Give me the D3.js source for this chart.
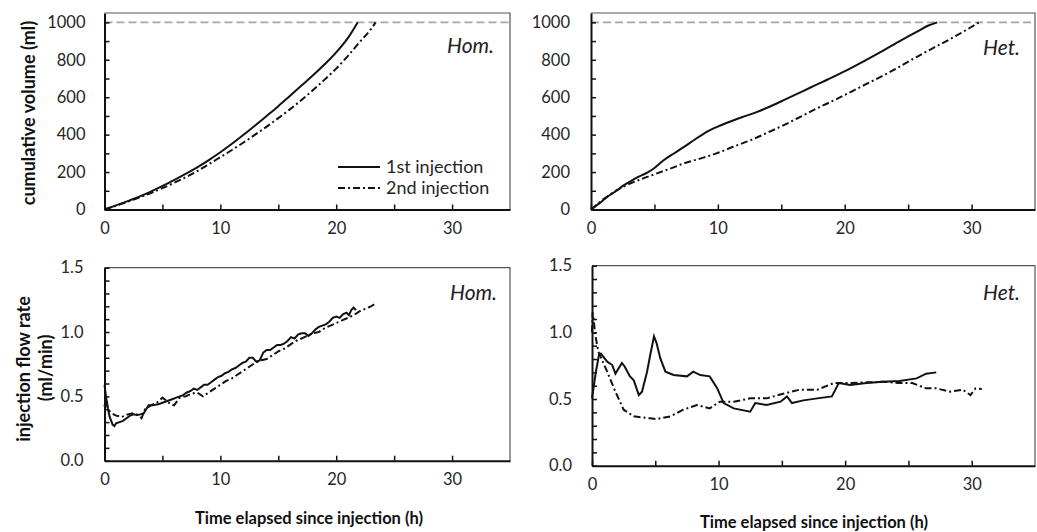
<!DOCTYPE html>
<html>
<head>
<meta charset="utf-8">
<script src="https://cdn.jsdelivr.net/npm/d3@7"></script>
<style>
  html, body { margin: 0; padding: 0; background: #fff; }
  svg { display: block; font-family: Lato, "Open Sans", sans-serif; }
  .title { font-weight: bold; fill: #111; }
  .tag { font-style: italic; font-size: 21px; fill: #222; }
  .leg { font-size: 18px; fill: #262626; }
</style>
</head>
<body>
<svg id="chart" width="1037" height="532"></svg>
<script>
// Cumulative injected volume (ml) against elapsed time (h)
const homVol1 = [[0,0],[1,22],[2,45],[3,69],[4,96],[5,126],[6,157],[7,190],[8,225],[9,264],[10,306],[11,351],[12,399],[13,449],[14,500],[15,552],[16,607],[17,662],[18,717],[19,776],[20,840],[21,916],[21.85,1000]];
const homVol2 = [[0,0],[1,20],[2,42],[3,64],[4,88],[5,114],[6,142],[7,172],[8,205],[9,242],[10,280],[11,318],[12,358],[13,400],[14,443],[15,488],[16,535],[17,585],[18,638],[19,694],[20,753],[21,820],[22,893],[23,964],[23.4,1000]];
const hetVol1 = [[0,0],[0.6,30],[1.3,68],[2.0,100],[2.6,130],[3.5,166],[4.5,200],[5.0,222],[5.7,262],[6.5,298],[7.3,333],[8.1,370],[8.9,406],[9.5,428],[10.1,446],[11.3,478],[12.2,500],[13.1,522],[14.2,553],[15.2,584],[16.2,616],[17.3,652],[18.7,696],[20.1,742],[21.6,796],[23.1,852],[24.4,902],[25.7,950],[26.6,983],[27.3,1000]];
const hetVol2 = [[0,0],[0.7,40],[1.4,75],[2.05,103],[2.8,130],[4.0,163],[5.2,193],[6.3,220],[7.3,246],[8.6,272],[9.9,300],[11.2,335],[12.6,371],[13.9,410],[15.2,451],[16.5,495],[17.8,540],[19.2,585],[20.5,629],[21.8,674],[23.1,718],[24.4,766],[25.7,816],[27.0,864],[28.4,914],[29.6,960],[30.6,1000]];

// Injection flow rate (ml/min) against elapsed time (h)
const homRate1 = [[0,0.59],[0.1,0.52],[0.25,0.42],[0.45,0.34],[0.7,0.28],[0.85,0.27],[1.0,0.29],[1.3,0.30],[1.6,0.31],[1.9,0.33],[2.2,0.35],[2.5,0.36],[2.8,0.355],[3.1,0.36],[3.4,0.37],[3.6,0.40],[3.8,0.43],[4.1,0.43],[4.4,0.435],[4.7,0.44],[5.0,0.45],[5.3,0.46],[5.6,0.47],[5.9,0.48],[6.2,0.49],[6.5,0.50],[6.8,0.51],[7.1,0.53],[7.4,0.54],[7.7,0.56],[8.0,0.55],[8.3,0.57],[8.6,0.59],[8.9,0.59],[9.2,0.61],[9.5,0.63],[9.8,0.65],[10.1,0.66],[10.4,0.68],[10.7,0.69],[11.0,0.71],[11.3,0.72],[11.6,0.74],[11.9,0.76],[12.2,0.77],[12.5,0.80],[12.8,0.80],[13.1,0.77],[13.4,0.78],[13.7,0.84],[14.0,0.86],[14.3,0.86],[14.6,0.88],[14.9,0.90],[15.2,0.90],[15.5,0.91],[15.8,0.93],[16.1,0.96],[16.4,0.95],[16.7,0.98],[17.0,0.99],[17.3,0.99],[17.6,0.97],[17.9,0.99],[18.2,1.02],[18.5,1.04],[18.8,1.05],[19.1,1.06],[19.4,1.08],[19.7,1.11],[20.0,1.12],[20.3,1.11],[20.6,1.14],[20.9,1.15],[21.1,1.13],[21.3,1.17],[21.5,1.19],[21.7,1.17]];
const homRate2 = [[0,0.42],[0.15,0.50],[0.3,0.40],[0.6,0.37],[1.0,0.35],[1.5,0.34],[2.0,0.36],[2.5,0.37],[3.0,0.35],[3.2,0.33],[3.5,0.40],[4.0,0.43],[4.5,0.45],[5.0,0.49],[5.3,0.47],[5.7,0.44],[6.0,0.43],[6.5,0.49],[7.0,0.50],[7.5,0.52],[8.0,0.53],[8.5,0.50],[9.0,0.53],[9.5,0.56],[10.0,0.59],[10.5,0.62],[11.0,0.64],[11.5,0.67],[12.0,0.70],[12.5,0.73],[13.0,0.76],[13.5,0.78],[14.0,0.79],[14.5,0.82],[15.0,0.85],[15.5,0.87],[16.0,0.90],[16.5,0.93],[17.0,0.95],[17.5,0.97],[18.0,0.99],[18.5,1.00],[19.0,1.03],[19.5,1.05],[20.0,1.07],[20.5,1.09],[21.0,1.11],[21.5,1.13],[22.0,1.16],[22.5,1.18],[23.0,1.20],[23.4,1.22]];
const hetRate1 = [[0,0.505],[0.3,0.70],[0.55,0.83],[0.7,0.84],[1.2,0.78],[1.6,0.755],[1.85,0.69],[2.1,0.73],[2.37,0.77],[2.6,0.74],[3.0,0.67],[3.3,0.64],[3.7,0.53],[3.95,0.555],[4.35,0.705],[4.6,0.83],[4.9,0.97],[5.1,0.92],[5.4,0.805],[5.8,0.705],[6.45,0.68],[7.5,0.67],[8.0,0.705],[8.55,0.68],[9.3,0.67],[9.9,0.58],[10.4,0.47],[11.2,0.43],[12.5,0.405],[12.9,0.47],[13.8,0.455],[14.9,0.48],[15.4,0.52],[15.8,0.47],[16.7,0.49],[17.8,0.505],[18.95,0.52],[19.5,0.62],[20.4,0.605],[21.7,0.62],[23.0,0.63],[24.3,0.635],[25.65,0.655],[26.4,0.69],[27.2,0.70]];
const hetRate2 = [[0,1.0],[0.05,1.15],[0.15,1.08],[0.26,0.98],[0.5,0.855],[1.2,0.705],[1.85,0.555],[2.5,0.42],[3.3,0.37],[4.6,0.355],[5.1,0.35],[6.2,0.37],[7.2,0.42],[8.3,0.455],[9.3,0.43],[10.1,0.48],[11.2,0.48],[12.5,0.505],[13.8,0.505],[15.1,0.54],[16.4,0.57],[17.8,0.57],[19.1,0.62],[20.4,0.62],[21.7,0.625],[23.0,0.63],[24.3,0.62],[25.3,0.62],[26.4,0.58],[27.2,0.58],[28.3,0.555],[29.3,0.57],[29.9,0.53],[30.3,0.58],[30.8,0.575]];

const xTicks = [0, 5, 10, 15, 20, 25, 30];
const volTicks = [0, 100, 200, 300, 400, 500, 600, 700, 800, 900, 1000];
const rateTicks = [0, 0.1, 0.2, 0.3, 0.4, 0.5, 0.6, 0.7, 0.8, 0.9, 1.0, 1.1, 1.2, 1.3, 1.4, 1.5];
const volLimit = 1000;
const seriesNames = ["1st injection", "2nd injection"];

const svg = d3.select("#chart");
const DASHDOT = "7,3,2,3";

function panel(cfg) {
  const x = d3.scaleLinear().domain([0, 35]).range([cfg.left, cfg.right]);
  const y = d3.scaleLinear().domain(cfg.yDomain).range([cfg.bottom, cfg.top]);
  const g = svg.append("g");

  // top and right frame
  g.append("path")
    .attr("d", `M${cfg.left},${cfg.top}H${cfg.right}V${cfg.bottom}`)
    .attr("fill", "none").attr("stroke", "#555").attr("stroke-width", 1.2);

  if (cfg.limit != null) {
    g.append("line")
      .attr("x1", x(0)).attr("x2", cfg.right)
      .attr("y1", y(cfg.limit)).attr("y2", y(cfg.limit))
      .attr("stroke", "#a6a6a6").attr("stroke-width", 1.6)
      .attr("stroke-dasharray", "8,4");
  }

  const line = d3.line().x(d => x(d[0])).y(d => y(d[1])).curve(cfg.curve);
  g.append("path").datum(cfg.s2).attr("d", line)
    .attr("fill", "none").attr("stroke", "#111").attr("stroke-width", 2)
    .attr("stroke-dasharray", DASHDOT);
  g.append("path").datum(cfg.s1).attr("d", line)
    .attr("fill", "none").attr("stroke", "#111").attr("stroke-width", 2);

  const xAxis = d3.axisBottom(x).tickValues(xTicks)
    .tickSizeInner(-5).tickSizeOuter(0).tickPadding(13)
    .tickFormat(d => d % 10 === 0 ? d : "");
  const gx = g.append("g").attr("transform", `translate(0,${cfg.bottom})`).call(xAxis);

  const yAxis = d3.axisLeft(y).tickValues(cfg.yTicks)
    .tickSizeInner(-5).tickSizeOuter(0).tickPadding(cfg.yPad)
    .tickFormat(cfg.yFormat);
  const gy = g.append("g").attr("transform", `translate(${cfg.left},0)`).call(yAxis);

  [gx, gy].forEach(a => {
    a.select(".domain").attr("stroke", "#111").attr("stroke-width", 2);
    a.selectAll(".tick line").attr("stroke", "#111").attr("stroke-width", 1.5);
    a.selectAll("text").attr("font-size", 16.5).attr("fill", "#262626").attr("font-family", "Lato, sans-serif");
  });

  g.append("text").attr("class", "tag")
    .attr("x", cfg.right - cfg.tagInset).attr("y", cfg.tagY)
    .attr("text-anchor", "end").text(cfg.tag);

  return { x, y, g };
}

const volFmt = d => d % 200 === 0 ? d : "";
const rateFmt = d => (Math.round(d * 10) % 5 === 0) ? d3.format(".1f")(d) : "";

panel({ left: 104.5, right: 510, top: 13, bottom: 209.5, yDomain: [0, 1050],
  yTicks: volTicks, yFormat: volFmt, yPad: 19, s1: homVol1, s2: homVol2,
  curve: d3.curveMonotoneX, limit: volLimit, tag: "Hom.", tagY: 53, tagInset: 16 });
panel({ left: 591, right: 1035, top: 13, bottom: 209.5, yDomain: [0, 1050],
  yTicks: volTicks, yFormat: volFmt, yPad: 21, s1: hetVol1, s2: hetVol2,
  curve: d3.curveMonotoneX, limit: volLimit, tag: "Het.", tagY: 55, tagInset: 15 });
panel({ left: 104.5, right: 510, top: 267.7, bottom: 460.7, yDomain: [0, 1.5],
  yTicks: rateTicks, yFormat: rateFmt, yPad: 21, s1: homRate1, s2: homRate2,
  curve: d3.curveLinear, limit: null, tag: "Hom.", tagY: 300, tagInset: 13 });
panel({ left: 592, right: 1035, top: 265.7, bottom: 465.7, yDomain: [0, 1.5],
  yTicks: rateTicks, yFormat: rateFmt, yPad: 20, s1: hetRate1, s2: hetRate2,
  curve: d3.curveLinear, limit: null, tag: "Het.", tagY: 300, tagInset: 15 });

// legend in the upper-left panel
const leg = svg.append("g");
seriesNames.forEach((name, i) => {
  const yy = 167 + i * 21;
  leg.append("line").attr("x1", 338).attr("x2", 380).attr("y1", yy).attr("y2", yy)
    .attr("stroke", "#111").attr("stroke-width", 2)
    .attr("stroke-dasharray", i === 1 ? DASHDOT : null);
  leg.append("text").attr("class", "leg").attr("x", 386).attr("y", yy + 6).text(name);
});

// axis titles
svg.append("text").attr("class", "title").attr("font-size", 18)
  .attr("transform", "translate(35,113) rotate(-90)")
  .attr("text-anchor", "middle").text("cumulative volume (ml)");
svg.append("text").attr("class", "title").attr("font-size", 18)
  .attr("transform", "translate(30,369) rotate(-90)")
  .attr("text-anchor", "middle").text("injection flow rate");
svg.append("text").attr("class", "title").attr("font-size", 18)
  .attr("transform", "translate(52,368) rotate(-90)")
  .attr("text-anchor", "middle").text("(ml/min)");
svg.append("text").attr("class", "title").attr("font-size", 16.5)
  .attr("x", 309).attr("y", 524).attr("text-anchor", "middle")
  .text("Time elapsed since injection (h)");
svg.append("text").attr("class", "title").attr("font-size", 16.5)
  .attr("x", 814).attr("y", 528).attr("text-anchor", "middle")
  .text("Time elapsed since injection (h)");
</script>
</body>
</html>
